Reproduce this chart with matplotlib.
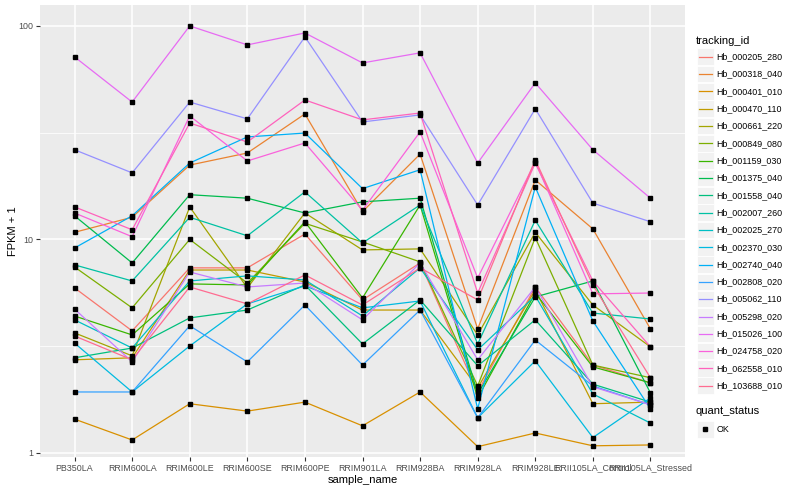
import matplotlib
matplotlib.use("Agg")
import matplotlib.pyplot as plt
import numpy as np
from matplotlib.patches import Rectangle

plt.rcParams['font.family'] = ['Liberation Sans', 'DejaVu Sans']

samples = ["PB350LA", "RRIM600LA", "RRIM600LE", "RRIM600SE", "RRIM600PE", "RRIM901LA",
           "RRIM928BA", "RRIM928LA", "RRIM928LE", "RRII105LA_Control", "RRII105LA_Stressed"]

tracking_ids = ["Hb_000205_280", "Hb_000318_040", "Hb_000401_010", "Hb_000470_110", "Hb_000661_220",
                "Hb_000849_080", "Hb_001159_030", "Hb_001375_040", "Hb_001558_040", "Hb_002007_260",
                "Hb_002025_270", "Hb_002370_030", "Hb_002740_040", "Hb_002808_020", "Hb_005062_110",
                "Hb_005298_020", "Hb_015026_100", "Hb_024758_020", "Hb_062558_010", "Hb_103688_010"]

# FPKM + 1 values per tracking_id, in sample order
fpkm = {
    "Hb_000205_280": [5.93, 3.73, 7.36, 7.36, 10.6, 5.21, 7.76, 1.93, 5.99, 2.58, 2.13],
    "Hb_000318_040": [10.8, 12.7, 22.3, 25.4, 38.7, 13.5, 25.1, 3.81, 19.0, 11.2, 3.81],
    "Hb_000401_010": [1.44, 1.15, 1.70, 1.57, 1.73, 1.34, 1.93, 1.07, 1.24, 1.08, 1.09],
    "Hb_000470_110": [2.73, 2.79, 7.19, 7.19, 6.32, 4.67, 4.67, 2.02, 5.80, 1.70, 1.73],
    "Hb_000661_220": [3.65, 2.85, 14.2, 5.93, 13.3, 8.93, 9.03, 3.57, 10.8, 4.93, 3.14],
    "Hb_000849_080": [7.43, 4.78, 10.0, 6.25, 11.9, 9.73, 7.85, 2.06, 10.2, 2.58, 2.25],
    "Hb_001159_030": [4.38, 3.57, 6.19, 6.12, 12.1, 5.32, 14.5, 1.81, 5.61, 2.53, 2.13],
    "Hb_001375_040": [12.9, 7.76, 16.2, 15.6, 13.3, 15.0, 15.6, 1.89, 5.38, 6.39, 1.91],
    "Hb_001558_040": [2.79, 3.10, 4.29, 4.67, 6.12, 3.24, 5.21, 2.56, 4.20, 2.10, 1.73],
    "Hb_002007_260": [7.60, 6.39, 12.7, 10.4, 16.7, 9.63, 14.5, 3.24, 12.3, 4.52, 4.24],
    "Hb_002025_270": [4.20, 3.10, 6.39, 6.75, 6.46, 4.38, 7.36, 3.04, 5.44, 1.89, 1.38],
    "Hb_002370_030": [3.27, 1.93, 3.17, 4.99, 6.06, 4.78, 5.15, 1.46, 2.70, 1.18, 1.81],
    "Hb_002740_040": [9.12, 12.9, 22.8, 30.2, 31.5, 17.3, 21.2, 1.61, 17.6, 4.15, 1.61],
    "Hb_002808_020": [1.93, 1.93, 3.94, 2.67, 4.93, 2.58, 4.67, 1.46, 3.38, 2.06, 1.68],
    "Hb_005062_110": [26.3, 20.5, 44.0, 36.7, 88.8, 35.5, 38.3, 14.5, 40.9, 14.8, 12.1],
    "Hb_005298_020": [4.72, 2.67, 7.04, 5.99, 6.25, 4.20, 7.76, 2.73, 5.99, 2.04, 1.68],
    "Hb_015026_100": [71.6, 44.0, 100.0, 81.5, 92.7, 67.1, 74.8, 22.8, 54.1, 26.3, 15.6],
    "Hb_024758_020": [13.3, 10.3, 37.9, 23.3, 28.3, 13.7, 31.9, 6.60, 23.1, 5.56, 5.61],
    "Hb_062558_010": [14.2, 11.1, 35.1, 28.6, 45.0, 36.3, 39.1, 5.61, 22.8, 6.39, 3.14],
    "Hb_103688_010": [3.53, 2.73, 5.99, 4.99, 6.82, 4.93, 7.36, 5.21, 23.6, 6.12, 2.25],
}

colors = ["#F8766D", "#EA8331", "#D89000", "#C09B00", "#A3A500", "#7CAE00", "#39B600", "#00BB4E",
          "#00BF7D", "#00C1A3", "#00BFC4", "#00BAE0", "#00B0F6", "#35A2FF", "#9590FF", "#C77CFF",
          "#E76BF3", "#FA62DB", "#FF62BC", "#FF6C91"]

W, H = 800, 500
fig = plt.figure(figsize=(8, 5), dpi=100)
fig.patch.set_facecolor("white")

pl, pr, pt, pb = 40, 685, 5, 457
ax = fig.add_axes([pl / W, 1 - pb / H, (pr - pl) / W, (pb - pt) / H])
ax.set_facecolor("#EBEBEB")
for s in ax.spines.values():
    s.set_visible(False)

x = np.arange(len(samples))
ax.set_yscale("log")
ax.set_ylim(10 ** -0.019, 10 ** 2.098)
ax.set_xlim(-0.6, len(samples) - 1 + 0.6)

# grid
for m in [10 ** 0.5, 10 ** 1.5]:
    ax.axhline(m, color="white", lw=0.55, zorder=0)
for m in [1, 10, 100]:
    ax.axhline(m, color="white", lw=1.1, zorder=0)
for xi in x:
    ax.axvline(xi, color="white", lw=1.1, zorder=0)

for tid, c in zip(tracking_ids, colors):
    ax.plot(x, fpkm[tid], color=c, lw=0.9, zorder=2, solid_capstyle="butt")
for tid in tracking_ids:
    ax.plot(x, fpkm[tid], ls="none", marker="s", ms=2.5, color="black", zorder=3)

ax.set_yticks([1, 10, 100])
ax.set_yticklabels(["1", "10", "100"])
ax.yaxis.set_minor_locator(matplotlib.ticker.NullLocator())
ax.set_xticks(x)
ax.set_xticklabels(samples)
ax.tick_params(axis="both", colors="#333333", length=2.7, width=0.8, labelsize=6.4,
               labelcolor="#4D4D4D", pad=2)
ax.set_xlabel("sample_name", fontsize=8, color="black", labelpad=2)
ax.set_ylabel("FPKM + 1", fontsize=8, color="black", labelpad=0)

# legend drawn in pixel coordinates
lg = fig.add_axes([0, 0, 1, 1])
lg.set_xlim(0, W)
lg.set_ylim(H, 0)
lg.axis("off")
lg.text(696, 40.5, "tracking_id", fontsize=8, va="center", ha="left")
y0, step = 56.7, 17.32
for i, (tid, c) in enumerate(zip(tracking_ids, colors)):
    yc = y0 + i * step
    lg.add_patch(Rectangle((697, yc - 8.3), 16.6, 16.6, facecolor="#F2F2F2", edgecolor="white", lw=0.6))
    lg.plot([698.5, 711.5], [yc, yc], color=c, lw=0.9)
    lg.text(716.5, yc, tid, fontsize=6.4, va="center", ha="left")
lg.text(696, 411.5, "quant_status", fontsize=8, va="center", ha="left")
yc = 429.3
lg.add_patch(Rectangle((697, yc - 8.3), 16.6, 16.6, facecolor="#F2F2F2", edgecolor="white", lw=0.6))
lg.plot([705.2], [yc], marker="s", ms=2.5, color="black")
lg.text(716.5, yc, "OK", fontsize=6.4, va="center", ha="left")

fig.savefig("out.png", dpi=100)
